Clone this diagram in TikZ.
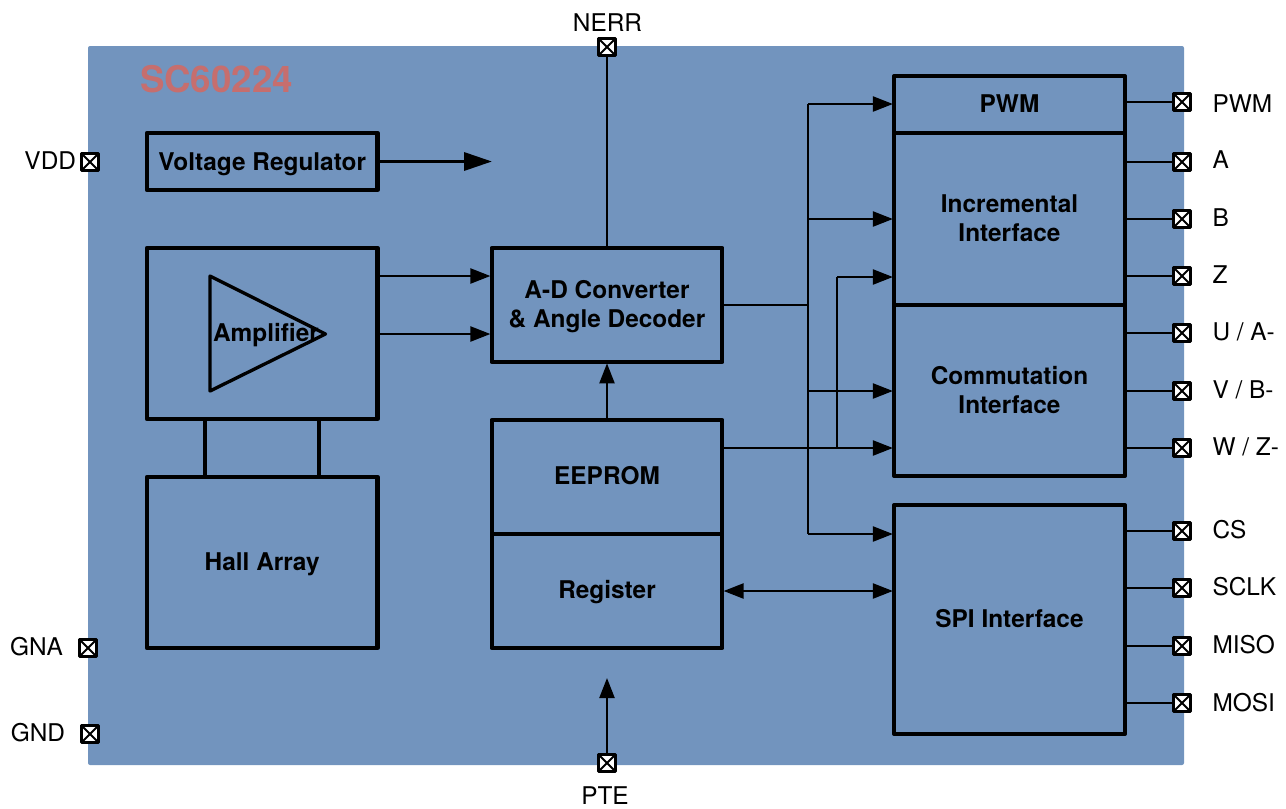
\documentclass[tikz,border=0pt]{standalone}
\usepackage{fontspec}
\setmainfont{TeX Gyre Heros}
\usetikzlibrary{arrows.meta,positioning}
\definecolor{chipblue}{HTML}{7294BE}
\definecolor{chipred}{HTML}{C66E6E}
\begin{document}
\begin{tikzpicture}[x=0.75pt,y=-0.75pt,
    every node/.style={inner sep=0pt,outer sep=0pt,font=\fontsize{18.3}{21.75}\selectfont},
    block/.style={draw=black,line width=3.2pt,line join=round,align=center,minimum width=172.9pt,font=\fontsize{18.3}{21.75}\selectfont\bfseries},
    pad/.style={draw=black,fill=white,line width=2.4pt,line join=round,minimum size=13pt,
        path picture={\draw [black,line width=1.5pt] (path picture bounding box.north west) -- (path picture bounding box.south east)
            (path picture bounding box.north east) -- (path picture bounding box.south west);}},
    wire/.style={draw=black,line width=1.7pt},
    sig/.style={wire,-{Triangle[length=15pt,width=11.25pt]},shorten >=1pt},
    dsig/.style={wire,{Triangle[length=15pt,width=11.25pt]}-{Triangle[length=15pt,width=11.25pt]},shorten >=1pt,shorten <=1pt},
    link/.style={draw=black,line width=3.2pt}]
    \useasboundingbox (0,0) rectangle (1286,808);
    % chip body
    \node [fill=chipblue,rounded corners=1.5pt,minimum width=822pt,minimum height=539.25pt] (chip) at (636,405.5) {};
    \node [anchor=base west,text=chipred,font=\fontsize{27.5}{30}\selectfont\bfseries] (title) at (140,92.5) {SC60224};
    % blocks
    \node [block,minimum height=42.75pt,text depth=0pt] (vreg) at (262.25,161.5) {Voltage Regulator};
    \node [block,minimum height=128.25pt] (ampbox) at (262.25,333.5) {};
    \node [block,minimum height=128.25pt,text depth=2pt] (hall) at (262.25,562.5) {Hall Array};
    \node [block,minimum height=85.5pt,text depth=2pt] (adc) at (607,305) {A-D Converter\\\& Angle Decoder};
    \node [block,minimum height=85.5pt,text depth=3pt] (eeprom) at (607,477) {EEPROM};
    \node [block,minimum height=85.5pt,text depth=2pt] (reg) at (607,591) {Register};
    \node [block,minimum height=42.75pt,text depth=1.5pt] (pwm) at (1009.5,104.5) {PWM};
    \node [block,minimum height=129pt,text depth=2pt] (incr) at (1009.5,219) {Incremental\\Interface};
    \node [block,minimum height=128.25pt,text depth=1.5pt] (comm) at (1009.5,390.5) {Commutation\\Interface};
    \node [block,minimum height=171.75pt,text depth=1.5pt] (spi) at (1009.5,619.5) {SPI Interface};
    % amplifier
    \node [font=\fontsize{18.3}{21.75}\selectfont\bfseries] (amp) at (266,335) {Amplifier};
    \draw [draw=black,line width=2.5pt,line join=round] (210,276) -- (210,391) -- (325.5,334) -- cycle;
    \draw [link] (205,419) -- (205,477);
    \draw [link] (319,419) -- (319,477);
    % pads
    \node [pad] (nerrpad) at (607,47) {};
    \node [pad] (ptepad) at (607,763) {};
    \node [pad] (vddpad) at (90,162) {};
    \node [pad] (gnapad) at (88,648) {};
    \node [pad] (gndpad) at (90,734) {};
    \node [pad] (pwmpad) at (1182,102) {};
    \node [pad] (apad) at (1182,162) {};
    \node [pad] (bpad) at (1182,219) {};
    \node [pad] (zpad) at (1182,276) {};
    \node [pad] (upad) at (1182,333) {};
    \node [pad] (vpad) at (1182,391) {};
    \node [pad] (wpad) at (1182,448) {};
    \node [pad] (cspad) at (1182,531) {};
    \node [pad] (sclkpad) at (1182,588) {};
    \node [pad] (misopad) at (1182,646) {};
    \node [pad] (mosipad) at (1182,703) {};
    % pad labels
    \node (nerrlabel) at (607.5,23) {NERR};
    \node (ptelabel) at (605,796) {PTE};
    \node [anchor=east] (vddlabel) at (76,161) {VDD};
    \node (gnalabel) at (36.5,647) {GNA};
    \node (gndlabel) at (38,733) {GND};
    \node [anchor=base west] (pwmlabel) at (1212.5,112) {PWM};
    \node [anchor=base west] (alabel) at (1212.5,168.5) {A};
    \node [anchor=base west] (blabel) at (1212.5,226) {B};
    \node [anchor=base west] (zlabel) at (1212.5,283) {Z};
    \node [anchor=base west] (ulabel) at (1212.5,340.5) {U / A-};
    \node [anchor=base west] (vlabel) at (1212.5,398) {V / B-};
    \node [anchor=base west] (wlabel) at (1212.5,455) {W / Z-};
    \node [anchor=base west] (cslabel) at (1212.5,538) {CS};
    \node [anchor=base west] (sclklabel) at (1212.5,595) {SCLK};
    \node [anchor=base west] (misolabel) at (1212.5,653) {MISO};
    \node [anchor=base west] (mosilabel) at (1212.5,711) {MOSI};
    % connector ends
    \coordinate (vregend) at (492,161.5);
    \coordinate (ampone) at (378,276);
    \coordinate (amptwo) at (378,334);
    \coordinate (adcout) at (808,305);
    \coordinate (bustop) at (808,104);
    \coordinate (busincr) at (808,219);
    \coordinate (buscomm) at (808,391);
    \coordinate (busspi) at (808,534);
    \coordinate (eejoin) at (837,448);
    \coordinate (eetop) at (837,277);
    \coordinate (pteend) at (607,678);
    % connectors
    \draw [line width=2.5pt,draw=black,-{Triangle[length=21pt,width=13.5pt]}] (vreg.east) -- (vregend);
    \draw [wire] (adc.north) -- (nerrpad.south);
    \draw [sig] (ampone) -- (ampone -| adc.west);
    \draw [sig] (amptwo) -- (amptwo -| adc.west);
    \draw [sig] (eeprom.north) -- (adc.south);
    \draw [wire,-{Triangle[length=15pt,width=11.25pt]}] (ptepad.north) -- (pteend);
    \draw [wire] (adcout -| adc.east) -- (adcout);
    \draw [wire,line join=round] (bustop) -- (busspi);
    \draw [sig] (bustop) -- (bustop -| pwm.west);
    \draw [sig] (busincr) -- (busincr -| incr.west);
    \draw [sig] (buscomm) -- (buscomm -| comm.west);
    \draw [sig] (busspi) -- (busspi -| spi.west);
    \draw [sig] (eejoin -| eeprom.east) -- (eejoin -| comm.west);
    \draw [wire] (eejoin) -- (eetop);
    \draw [sig] (eetop) -- (eetop -| incr.west);
    \draw [dsig] (reg.east) -- (reg.east -| spi.west);
    \draw [wire] (pwm.east |- pwmpad) -- (pwmpad.west);
    \draw [wire] (incr.east |- apad) -- (apad.west);
    \draw [wire] (incr.east |- bpad) -- (bpad.west);
    \draw [wire] (incr.east |- zpad) -- (zpad.west);
    \draw [wire] (comm.east |- upad) -- (upad.west);
    \draw [wire] (comm.east |- vpad) -- (vpad.west);
    \draw [wire] (comm.east |- wpad) -- (wpad.west);
    \draw [wire] (spi.east |- cspad) -- (cspad.west);
    \draw [wire] (spi.east |- sclkpad) -- (sclkpad.west);
    \draw [wire] (spi.east |- misopad) -- (misopad.west);
    \draw [wire] (spi.east |- mosipad) -- (mosipad.west);
\end{tikzpicture}
\end{document}
